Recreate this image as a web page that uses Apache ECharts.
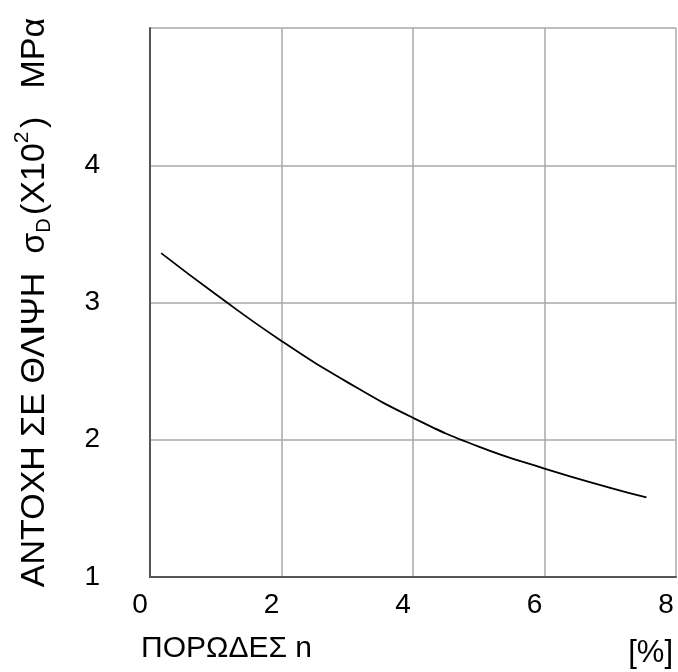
<!DOCTYPE html>
<html>
<head>
<meta charset="utf-8">
<script src="https://cdn.jsdelivr.net/npm/echarts@6/dist/echarts.min.js"></script>
<style>
  html, body { margin: 0; padding: 0; background: #fff; }
  #chart { width: 678px; height: 672px; }
</style>
</head>
<body>
<div id="chart"></div>
<script>
// Porosity n [%] against compressive strength σD (×10² MPa)
const porosity = [0.17, 1, 2, 3, 4, 5, 6, 7, 7.55];
const strength = [3.36, 3.06, 2.72, 2.42, 2.16, 1.95, 1.79, 1.65, 1.58];
const xTicks = [0, 2, 4, 6, 8];
const yTicks = [1, 2, 3, 4];

const FONT = '"Liberation Sans", Arial, sans-serif';
const gridColor = '#a8a8a8';
const axisColor = '#555555';

const chart = echarts.init(document.getElementById('chart'), null, { renderer: 'canvas' });

chart.setOption({
  animation: false,
  backgroundColor: '#ffffff',
  grid: { left: 150, right: 2, top: 28, bottom: 95, containLabel: false },
  xAxis: {
    type: 'value',
    min: xTicks[0],
    max: xTicks[xTicks.length - 1],
    interval: 2,
    axisLine: { show: true, onZero: false, lineStyle: { color: axisColor, width: 2 } },
    axisTick: { show: false },
    splitLine: { show: true, lineStyle: { color: gridColor, width: 1.5 } },
    axisLabel: {
      color: '#000', fontFamily: FONT, fontSize: 28, margin: 14,
      padding: [0, 20, 0, 0],
      formatter: v => (xTicks.includes(v) ? String(v) : '')
    }
  },
  yAxis: {
    type: 'value',
    min: 1,
    max: 5,
    interval: 1,
    axisLine: { show: true, onZero: false, lineStyle: { color: axisColor, width: 2 } },
    axisTick: { show: false },
    splitLine: { show: true, lineStyle: { color: gridColor, width: 1.5 } },
    axisLabel: {
      color: '#000', fontFamily: FONT, fontSize: 28, margin: 50,
      formatter: v => (yTicks.includes(v) ? String(v) : '')
    },
    name: '{a|ΑΝΤΟΧΗ ΣΕ ΘΛ}{b|Ι}{a|ΨΗ  σ}{sub|D}{s| }{a|(X10}{sup|2}{s| }{a|)   MPα}',
    nameLocation: 'middle',
    nameGap: 96,
    nameTextStyle: {
      color: '#000',
      fontFamily: FONT,
      fontSize: 34,
      rich: {
        a: { fontFamily: FONT, fontSize: 34, color: '#000', lineHeight: 42, verticalAlign: 'bottom', padding: [0, 0, 2, 0] },
        b: { fontFamily: FONT, fontSize: 34, fontWeight: 'bold', color: '#000', lineHeight: 42, verticalAlign: 'bottom', padding: [0, 0, 2, 0] },
        s: { fontFamily: FONT, fontSize: 12, lineHeight: 12, verticalAlign: 'bottom' },
        sub: { fontFamily: FONT, fontSize: 20, color: '#000', lineHeight: 20, verticalAlign: 'bottom' },
        sup: { fontFamily: FONT, fontSize: 21, color: '#000', lineHeight: 21, verticalAlign: 'top' }
      }
    }
  },
  graphic: [
    {
      type: 'text',
      left: 141,
      top: 634,
      style: { text: 'ΠΟΡΩΔΕΣ n', font: '30px ' + FONT, fill: '#000' }
    },
    {
      type: 'text',
      right: 5,
      top: 638,
      style: { text: '[%]', font: '31px ' + FONT, fill: '#000' }
    }
  ],
  series: [{
    type: 'line',
    data: porosity.map((x, i) => [x, strength[i]]),
    smooth: true,
    symbol: 'none',
    lineStyle: { color: '#000', width: 1.8 }
  }]
});
</script>
</body>
</html>
